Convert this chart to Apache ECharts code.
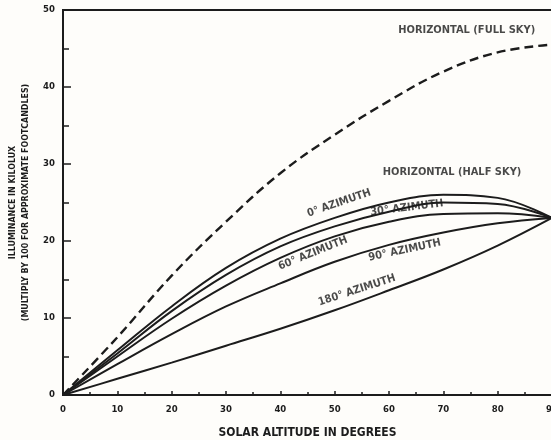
<!DOCTYPE html>
<html>
<head>
<meta charset="utf-8">
<title>Illuminance vs solar altitude</title>
<script src="https://cdn.jsdelivr.net/npm/echarts@6/dist/echarts.min.js"></script>
<style>
  html, body { margin: 0; padding: 0; background: #fefdfa; }
  #main { width: 551px; height: 440px; }
</style>
</head>
<body>
<div id="main"></div>
<script type="text/javascript">
// solar altitude (degrees)
var degrees = [0, 10, 20, 30, 40, 50, 60, 70, 80, 90];
// illuminance in kilolux
var fullSky = [0, 7.5, 15.5, 22.5, 28.8, 33.8, 38.2, 42.0, 44.5, 45.5];
var az0 = [0, 5.8, 11.5, 16.5, 20.3, 23.0, 25.0, 26.0, 25.6, 23.0];
var az30 = [0, 5.4, 10.9, 15.6, 19.3, 21.9, 23.8, 25.0, 24.8, 23.0];
var az60 = [0, 5.0, 9.9, 14.2, 17.8, 20.6, 22.5, 23.5, 23.6, 23.0];
var az90 = [0, 4.0, 7.9, 11.5, 14.5, 17.3, 19.5, 21.1, 22.3, 23.0];
var az180 = [0, 2.1, 4.2, 6.4, 8.6, 11.0, 13.6, 16.3, 19.4, 23.0];

// curve captions: text, altitude, kilolux, rotation
var notes = [
    ['HORIZONTAL (FULL SKY)', 74.3, 47.4, 0],
    ['HORIZONTAL (HALF SKY)', 71.6, 29.0, 0],
    ['0° AZIMUTH', 50.8, 24.9, 19],
    ['30° AZIMUTH', 63.3, 24.3, 7],
    ['60° AZIMUTH', 46.0, 18.4, 22],
    ['90° AZIMUTH', 62.9, 18.8, 12],
    ['180° AZIMUTH', 54.1, 13.6, 18]
];

var ink = '#1c1c1c';
var font = 'DejaVu Sans Condensed';

function pairs(arr) {
    return degrees.map(function (d, i) { return [d, arr[i]]; });
}

function curve(name, arr, dashed) {
    return {
        name: name,
        type: 'line',
        data: pairs(arr),
        smooth: 0.4,
        symbol: 'none',
        lineStyle: {
            color: ink,
            width: dashed ? 2.4 : 2,
            type: dashed ? [9, 5] : 'solid'
        },
        z: 3
    };
}

var myChart = echarts.init(document.getElementById('main'));

var option = {
    backgroundColor: '#fefdfa',
    animation: false,
    grid: {
        left: 63,
        top: 10,
        width: 489,
        height: 385,
        outerBoundsMode: 'none',
        containLabel: false,
        show: true,
        borderColor: ink,
        borderWidth: 2
    },
    xAxis: {
        type: 'value',
        min: 0,
        max: 90,
        interval: 10,
        name: 'SOLAR ALTITUDE IN DEGREES',
        nameLocation: 'middle',
        nameGap: 32,
        nameTextStyle: { fontFamily: font, fontWeight: 'bold', fontSize: 12, color: ink },
        axisLine: { lineStyle: { color: ink, width: 2 } },
        axisTick: { inside: true, length: 4, lineStyle: { color: ink, width: 1.5 } },
        minorTick: { show: true, splitNumber: 2, length: 3, lineStyle: { color: ink, width: 1.5 } },
        axisLabel: { margin: 10, fontFamily: font, fontWeight: 'bold', fontSize: 9.5, color: ink },
        splitLine: { show: false }
    },
    yAxis: {
        type: 'value',
        min: 0,
        max: 50,
        interval: 10,
        name: 'ILLUMINANCE IN KILOLUX\n(MULTIPLY BY 100 FOR APPROXIMATE FOOTCANDLES)',
        nameLocation: 'middle',
        nameGap: 27,
        nameRotate: 90,
        nameTextStyle: { fontFamily: font, fontWeight: 'bold', fontSize: 8.8, lineHeight: 13, color: ink },
        axisLine: { lineStyle: { color: ink, width: 2 } },
        axisTick: { inside: true, length: 8, lineStyle: { color: ink, width: 1.5 } },
        minorTick: { show: true, splitNumber: 2, length: 6, lineStyle: { color: ink, width: 1.5 } },
        axisLabel: { margin: 8, fontFamily: font, fontWeight: 'bold', fontSize: 9.5, color: ink },
        splitLine: { show: false }
    },
    series: [
        curve('Horizontal (full sky)', fullSky, true),
        curve('0° azimuth', az0, false),
        curve('30° azimuth', az30, false),
        curve('60° azimuth', az60, false),
        curve('90° azimuth', az90, false),
        curve('180° azimuth', az180, false),
        {
            name: 'captions',
            type: 'scatter',
            symbolSize: 0,
            silent: true,
            z: 5,
            data: notes.map(function (n) {
                return { name: n[0], value: [n[1], n[2]], label: { rotate: n[3] } };
            }),
            label: {
                show: true,
                position: 'inside',
                formatter: '{b}',
                fontFamily: font,
                fontWeight: 'bold',
                fontSize: 11,
                color: ink
            }
        }
    ]
};

myChart.setOption(option);
</script>
</body>
</html>
